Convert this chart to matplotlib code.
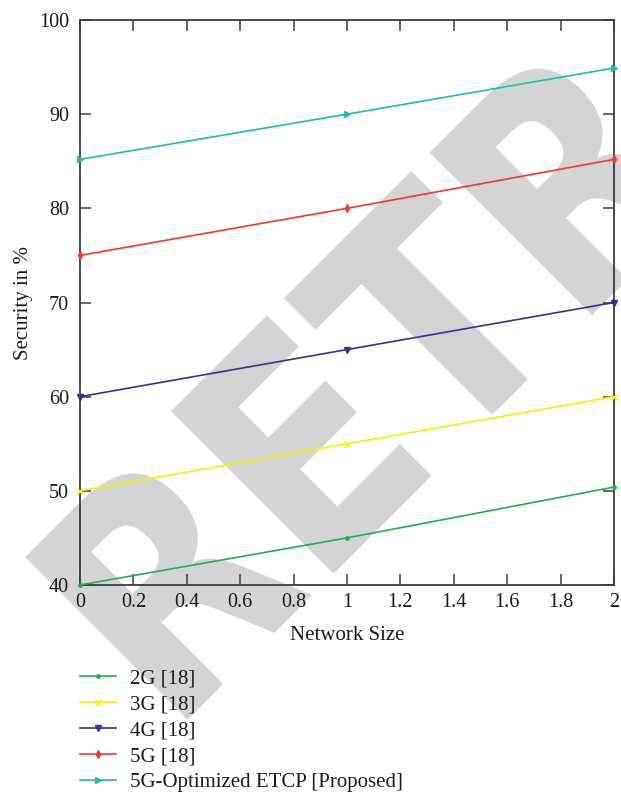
import matplotlib
matplotlib.use("Agg")
import matplotlib.pyplot as plt
from matplotlib.textpath import TextPath
from matplotlib.patches import PathPatch
from matplotlib.font_manager import FontProperties
from matplotlib.transforms import Affine2D

# Data
network_size = [0, 1, 2]
series_labels = ["2G [18]", "3G [18]", "4G [18]", "5G [18]", "5G-Optimized ETCP [Proposed]"]
sec_2g = [40.0, 45.0, 50.4]
sec_3g = [50.0, 55.0, 60.0]
sec_4g = [60.0, 65.0, 70.0]
sec_5g = [75.0, 80.0, 85.2]
sec_proposed = [85.2, 90.0, 94.9]
x_ticks = [0, 0.2, 0.4, 0.6, 0.8, 1, 1.2, 1.4, 1.6, 1.8, 2]
x_tick_labels = ["0", "0.2", "0.4", "0.6", "0.8", "1", "1.2", "1.4", "1.6", "1.8", "2"]
y_ticks = [40, 50, 60, 70, 80, 90, 100]

colors = ["#1fb04a", "#ffee00", "#3a2e98", "#f23a2c", "#1cbdb4"]
markers = [".", "x", "v", "d", ">"]
msizes = [5, 5, 4, 4, 4]

plt.rcParams["font.family"] = ["Liberation Serif", "DejaVu Serif"]
FS_TICK = 14.5
FS = 15

W, H = 621, 794
fig = plt.figure(figsize=(W / 100, H / 100), dpi=100)

# Diagonal watermark behind the axes
tp = TextPath((0, 0), "RETRACTED", size=1,
              prop=FontProperties(family="DejaVu Sans", weight="bold"))
wm_tf = Affine2D().scale(268, 315).rotate_deg(45).translate(170, H - 737)
wm = PathPatch(tp, facecolor="#d4d4d4", edgecolor="none", lw=0,
               transform=wm_tf, zorder=-5)
fig.patches.append(wm)

ax = fig.add_axes([80 / W, 1 - 585 / H, (614 - 80) / W, (585 - 20) / H])
ax.patch.set_alpha(0)

all_series = [sec_2g, sec_3g, sec_4g, sec_5g, sec_proposed]
for vals, lab, c, m, ms in zip(all_series, series_labels, colors, markers, msizes):
    ax.plot(network_size, vals, color=c, lw=1.2, marker=m, ms=ms,
            markeredgewidth=1.0, label=lab, clip_on=False, zorder=3)

ax.set_xlim(0, 2)
ax.set_ylim(40, 100)
ax.set_xticks(x_ticks)
ax.set_xticklabels(x_tick_labels)
ax.set_yticks(y_ticks)

spine_color = "#3c3c3c"
for s in ax.spines.values():
    s.set_color(spine_color)
    s.set_linewidth(1.3)
ax.tick_params(direction="in", length=8, width=1.1, color=spine_color,
               top=True, right=True, labelsize=FS_TICK, labelcolor="#1a1a1a")
ax.tick_params(axis="x", pad=6)
ax.tick_params(axis="y", pad=8)

ax.set_xlabel("Network Size", fontsize=FS, color="#1a1a1a", labelpad=10)
ax.set_ylabel("Security in %", fontsize=FS, color="#1a1a1a", labelpad=4)

leg = ax.legend(loc="upper left", bbox_to_anchor=(0, -0.149), frameon=False,
                fontsize=FS, borderaxespad=0, borderpad=0,
                handlelength=1.75, handletextpad=0.65, labelspacing=0.3)
for t in leg.get_texts():
    t.set_color("#1a1a1a")

fig.savefig("out.png", dpi=100)
